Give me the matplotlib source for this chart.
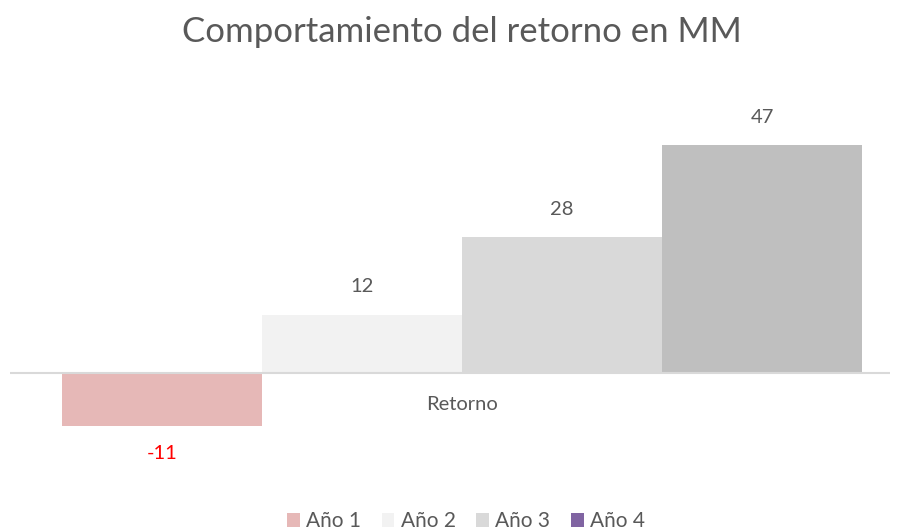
import matplotlib.pyplot as plt
from matplotlib.patches import Patch

plt.rcParams['font.family'] = ['Lato', 'DejaVu Sans']

categoria = "Retorno"
series = ["Año 1", "Año 2", "Año 3", "Año 4"]
valores = [-11, 12, 28, 47]
colores = ["#E6B8B7", "#F2F2F2", "#D9D9D9", "#BFBFBF"]
colores_leyenda = ["#E6B8B7", "#F2F2F2", "#D9D9D9", "#8064A2"]
texto = "#595959"

fig = plt.figure(figsize=(9.05, 5.31), dpi=100)
ax = fig.add_axes([10 / 905, (531 - 470) / 531, 880 / 905, 388 / 531])

pos = list(range(len(valores)))
ax.bar(pos, valores, width=1.0, color=colores, edgecolor="none")

for x, v in zip(pos, valores):
    if v >= 0:
        ax.text(x, v + 4.0, str(v), ha="center", va="bottom", fontsize=14.5, color=texto)
    else:
        ax.text(x, v - 3.8, str(v), ha="center", va="top", fontsize=14.5, color="red")

ax.axhline(0, color="#D9D9D9", lw=1.5)
ax.text(1.5, -4.8, categoria, ha="center", va="top", fontsize=14.5, color=texto)

ax.set_xlim(-0.76, 3.64)
ax.set_ylim(-20, 60)
ax.axis("off")

fig.text(0.51, 0.94, "Comportamiento del retorno en MM", ha="center", va="center",
         fontsize=25, color=texto)

handles = [Patch(facecolor=c, edgecolor="none") for c in colores_leyenda]
fig.legend(handles, series, loc="center", bbox_to_anchor=(0.515, 0.018), ncol=4,
           frameon=False, fontsize=15, labelcolor=texto, handlelength=0.6,
           handleheight=0.6, handletextpad=0.3, columnspacing=1.0)

fig.savefig("out.png", dpi=100)
